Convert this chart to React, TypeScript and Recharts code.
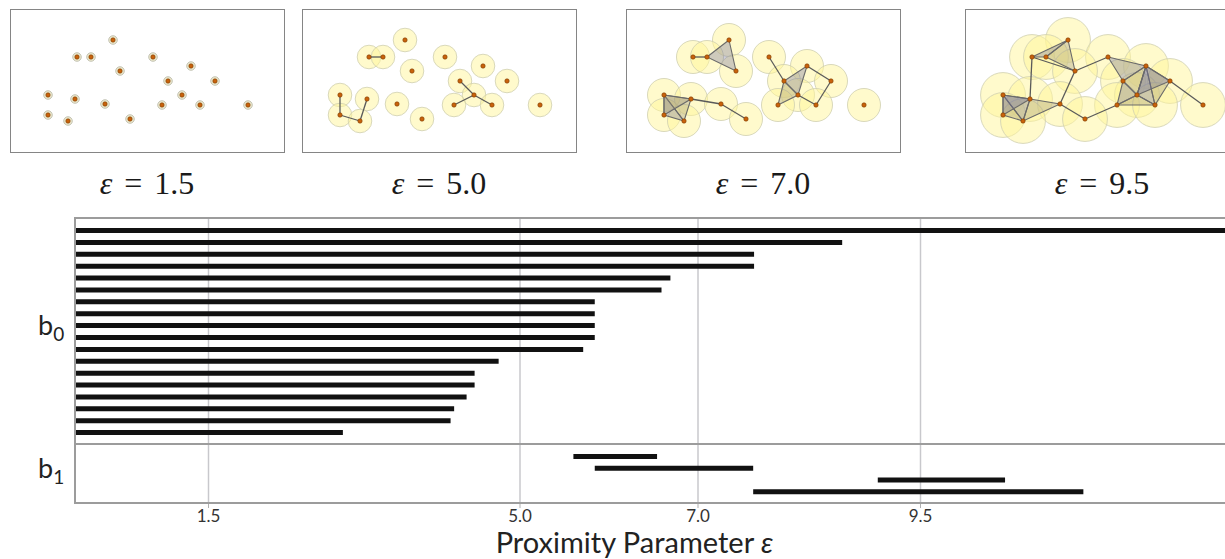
import { Bar, BarChart, CartesianGrid, Scatter, ScatterChart, XAxis, YAxis } from "recharts";

// point cloud, coordinates inside each 275x144 box
const points: [number, number][] = [
  [103, 31], [67, 48], [81, 48], [143, 48], [110, 62], [181, 57],
  [158, 72], [205, 72], [38, 86], [65, 90], [95, 95], [172, 86],
  [152, 96], [190, 96], [238, 96], [38, 106], [58, 112], [120, 110],
];

const epsValues = [1.5, 5.0, 7.0, 9.5];

const edges15: number[][] = [];
const edges50 = [[1, 2], [8, 15], [15, 16], [9, 16], [6, 11], [11, 13], [12, 11]];
const edges70 = [[1, 2], [9, 10], [10, 17], [3, 6], [5, 7], [7, 13], [11, 13]];
const edges95 = [[1, 9], [4, 10], [4, 3], [10, 17], [17, 12], [7, 14], [1, 4]];

const tris15: number[][] = [];
const tris50: number[][] = [];
const tris70 = [[0, 2, 4], [8, 9, 16], [8, 15, 16], [8, 9, 15], [5, 6, 11], [6, 11, 12]];
const tris95 = [
  [1, 0, 2], [2, 0, 4], [8, 9, 16], [8, 15, 16], [8, 9, 15], [9, 16, 10],
  [3, 5, 6], [5, 6, 11], [6, 11, 12], [11, 12, 13], [5, 11, 13], [5, 7, 13], [5, 7, 11],
];

// barcode
const b0Deaths = [13, 8.62, 7.63, 7.63, 6.69, 6.59, 5.84, 5.84, 5.84, 5.84, 5.71, 4.76, 4.49, 4.49, 4.4, 4.26, 4.22, 3.01];
const b1Births = [5.6, 5.84, 9.02, 7.62];
const b1Deaths = [6.54, 7.62, 10.45, 11.33];
const xTicks = [1.5, 5.0, 7.0, 9.5];

const b0Data = b0Deaths.map((d, i) => ({ id: `h0-${i}`, d }));
const b1Data = b1Births.map((b, i) => ({ id: `h1-${i}`, r: [b, b1Deaths[i]] }));

const boxLefts = [10, 302, 626, 965];
const complexes = [
  { edges: edges15, tris: tris15 },
  { edges: edges50, tris: tris50 },
  { edges: edges70, tris: tris70 },
  { edges: edges95, tris: tris95 },
];

const sans = "Lato, 'Open Sans', sans-serif";

function Complex({ eps, left, edges, tris }: { eps: number; left: number; edges: number[][]; tris: number[][] }) {
  const data = points.map(([x, y], i) => ({ x, y, i }));
  const small = eps < 2;
  const r = small ? 4.3 : eps * 2.36;
  return (
    <div
      style={{
        position: "absolute",
        left,
        top: 9,
        width: 275,
        height: 144,
        border: "1.5px solid #858585",
        boxSizing: "border-box",
        background: "#fff",
      }}
    >
      <div style={{ position: "absolute", left: -1.5, top: -1.5 }}>
        <ScatterChart width={275} height={144} margin={{ top: 0, right: 0, bottom: 0, left: 0 }}>
          <XAxis type="number" dataKey="x" domain={[0, 275]} hide />
          <YAxis type="number" dataKey="y" domain={[0, 144]} reversed hide />
          <Scatter
            data={data}
            isAnimationActive={false}
            shape={(p: any) => (
              <circle
                cx={p.cx}
                cy={p.cy}
                r={r}
                fill={small ? "#ece8cc" : "#fff59a"}
                fillOpacity={small ? 1 : 0.5}
                stroke={small ? "#b8b8a8" : "#cfcfb0"}
                strokeOpacity={0.8}
                strokeWidth={1}
              />
            )}
          />
          {tris.map((t, k) => (
            <Scatter
              key={`t${k}`}
              data={[...t, t[0]].map((i) => data[i])}
              isAnimationActive={false}
              line={{
                stroke: "#6a6a6a",
                strokeWidth: 1.1,
                fill: k % 2 === 0 ? "#6a6a9c" : "#9c9274",
                fillOpacity: 0.33,
              }}
              shape={() => <g />}
            />
          ))}
          {edges.map((e, k) => (
            <Scatter
              key={`e${k}`}
              data={e.map((i) => data[i])}
              isAnimationActive={false}
              line={{ stroke: "#5a5a5a", strokeWidth: 1.3 }}
              shape={() => <g />}
            />
          ))}
          <Scatter
            data={data}
            isAnimationActive={false}
            shape={(p: any) => (
              <circle cx={p.cx} cy={p.cy} r={2.2} fill="#c8620c" stroke="#7a3a00" strokeWidth={0.6} />
            )}
          />
        </ScatterChart>
      </div>
    </div>
  );
}

export default function App() {
  return (
    <div
      style={{
        position: "absolute",
        left: 0,
        top: 0,
        width: 1225,
        height: 559,
        overflow: "hidden",
        background: "#fff",
      }}
    >
      {epsValues.map((eps, k) => (
        <Complex key={eps} eps={eps} left={boxLefts[k]} edges={complexes[k].edges} tris={complexes[k].tris} />
      ))}
      {epsValues.map((eps, k) => (
        <div
          key={`l${eps}`}
          style={{
            position: "absolute",
            left: boxLefts[k] + 137 - 100,
            top: 164,
            width: 200,
            lineHeight: "38px",
            textAlign: "center",
            fontFamily: "'Liberation Serif', 'DejaVu Serif', serif",
            fontSize: 32,
            color: "#1a1a1a",
            wordSpacing: 4,
          }}
        >
          <i>ε</i> = {eps.toFixed(1)}
        </div>
      ))}

      {/* b0 panel */}
      <div style={{ position: "absolute", left: 0, top: 218 }}>
        <BarChart
          layout="vertical"
          width={1232}
          height={226}
          data={b0Data}
          margin={{ top: 0, right: 0, bottom: 0, left: 75 }}
          barSize={5}
        >
          <CartesianGrid horizontal={false} verticalValues={xTicks} stroke="#c8c8cc" strokeWidth={1.5} />
          <XAxis type="number" domain={[0, 13]} ticks={xTicks} hide />
          <YAxis type="category" dataKey="id" hide padding={{ top: 7, bottom: 5 }} />
          <Bar dataKey="d" fill="#111" isAnimationActive={false} />
        </BarChart>
      </div>

      {/* b1 panel with axis */}
      <div style={{ position: "absolute", left: 0, top: 444 }}>
        <BarChart
          layout="vertical"
          width={1232}
          height={115}
          data={b1Data}
          margin={{ top: 0, right: 0, bottom: 0, left: 75 }}
          barSize={5}
        >
          <CartesianGrid horizontal={false} stroke="#c8c8cc" strokeWidth={1.5} />
          <XAxis
            type="number"
            domain={[0, 13]}
            ticks={xTicks}
            interval={0}
            tickFormatter={(v: number) => v.toFixed(1)}
            height={56}
            tickSize={5}
            axisLine={false}
            tickLine={{ stroke: "#b0b0b0" }}
            tick={{ fontSize: 17, fill: "#333", fontFamily: sans }}
            label={{
              position: "insideBottom",
              content: (p: any) => {
                const vb = p.viewBox || { x: 75, y: 59, width: 1157, height: 56 };
                return (
                  <text
                    x={vb.x + vb.width / 2 - 19}
                    y={vb.y + vb.height - 6}
                    textAnchor="middle"
                    fontSize={29}
                    fill="#222"
                    fontFamily={sans}
                  >
                    Proximity Parameter <tspan fontStyle="italic">ε</tspan>
                  </text>
                );
              },
            }}
          />
          <YAxis type="category" dataKey="id" hide padding={{ top: 7, bottom: 5 }} />
          <Bar dataKey="r" fill="#111" isAnimationActive={false} />
        </BarChart>
      </div>

      {/* panel frame */}
      <div
        style={{
          position: "absolute",
          left: 74,
          top: 217,
          width: 1200,
          height: 287,
          border: "2px solid #9c9c9c",
          boxSizing: "border-box",
          pointerEvents: "none",
        }}
      />
      <div style={{ position: "absolute", left: 74, top: 443, width: 1200, height: 2, background: "#9c9c9c" }} />

      <div style={{ position: "absolute", left: 38, top: 308, fontFamily: sans, fontSize: 27, color: "#222" }}>
        b<sub style={{ fontSize: 19 }}>0</sub>
      </div>
      <div style={{ position: "absolute", left: 38, top: 451, fontFamily: sans, fontSize: 27, color: "#222" }}>
        b<sub style={{ fontSize: 19 }}>1</sub>
      </div>
    </div>
  );
}
